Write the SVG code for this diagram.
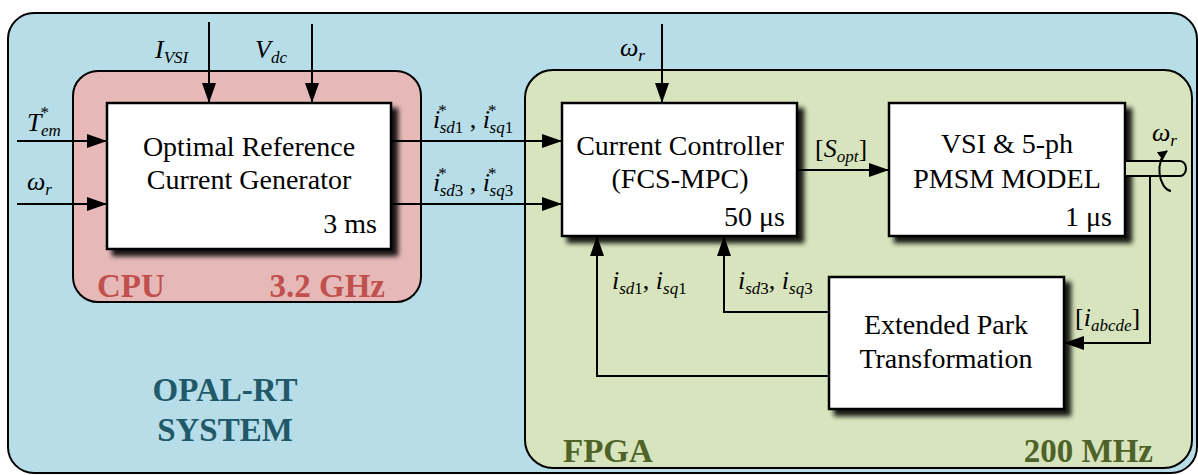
<svg xmlns="http://www.w3.org/2000/svg" width="1198" height="475" viewBox="0 0 1198 475">
<style>
.t{font-family:"Liberation Serif","Times New Roman",serif;font-size:28px;fill:#000}
.m{font-family:"Liberation Serif","Times New Roman",serif;font-size:26px;font-style:italic;fill:#000}
.s{font-size:17px}
.n{font-style:normal}
.b{font-family:"Liberation Serif","Times New Roman",serif;font-weight:bold;font-size:33px}
.box{fill:#fff;stroke:#000;stroke-width:2.5}
.ln{fill:none;stroke:#000;stroke-width:2}
</style>
<defs>
<marker id="ah" markerUnits="userSpaceOnUse" markerWidth="22" markerHeight="16" refX="20" refY="7" orient="auto">
<path d="M0,0 L20,7 L0,14 z" fill="#000"/>
</marker>
<marker id="sh" markerUnits="userSpaceOnUse" markerWidth="12" markerHeight="12" refX="9" refY="5" orient="auto">
<path d="M0,0 L10,5 L0,10 z" fill="#000"/>
</marker>
<filter id="shadow" x="-10%" y="-10%" width="130%" height="130%">
<feGaussianBlur in="SourceAlpha" stdDeviation="2.5"/>
<feOffset dx="6" dy="6" result="o"/>
<feComponentTransfer in="o" result="oc"><feFuncA type="linear" slope="0.9"/></feComponentTransfer>
<feMerge><feMergeNode in="oc"/><feMergeNode in="SourceGraphic"/></feMerge>
</filter>
</defs>

<g id="opal-rt">
<rect x="8" y="13" width="1189" height="460" rx="26" fill="#b7dde8" stroke="#000" stroke-width="2"/>
<text class="b" x="225" y="401" text-anchor="middle" fill="#215968">OPAL-RT</text>
<text class="b" x="225" y="441" text-anchor="middle" fill="#215968">SYSTEM</text>
</g>

<g id="cpu">
<rect x="73" y="71" width="348" height="231" rx="25" fill="#e6b9b8" stroke="#000" stroke-width="2"/>
<text class="b" x="97" y="297" fill="#c0504d">CPU</text>
<text class="b" x="385" y="297" text-anchor="end" fill="#c0504d">3.2 GHz</text>
</g>

<g id="fpga">
<rect x="525" y="70" width="667" height="398" rx="28" fill="#d7e4bd" stroke="#000" stroke-width="2"/>
<text class="b" x="563" y="462" fill="#4f6228">FPGA</text>
<text class="b" x="1153" y="462" text-anchor="end" fill="#4f6228">200 MHz</text>
</g>

<g id="optimal-reference">
<rect class="box" x="107" y="103" width="284" height="146" filter="url(#shadow)"/>
<text class="t" x="249" y="156" text-anchor="middle">Optimal Reference</text>
<text class="t" x="249" y="189" text-anchor="middle">Current Generator</text>
<text class="t" x="377" y="233" text-anchor="end">3 ms</text>
</g>

<g id="current-controller">
<rect class="box" x="562" y="103" width="235" height="133" filter="url(#shadow)"/>
<text class="t" x="680" y="155" text-anchor="middle">Current Controller</text>
<text class="t" x="680" y="188" text-anchor="middle">(FCS-MPC)</text>
<text class="t" x="785" y="226" text-anchor="end">50 μs</text>
</g>

<g id="pmsm-model">
<rect class="box" x="889" y="103" width="236" height="133" filter="url(#shadow)"/>
<text class="t" x="1007" y="153" text-anchor="middle">VSI &amp; 5-ph</text>
<text class="t" x="1007" y="188" text-anchor="middle">PMSM MODEL</text>
<text class="t" x="1112" y="226" text-anchor="end">1 μs</text>
</g>

<g id="park-transformation">
<rect class="box" x="829" y="277" width="235" height="132" filter="url(#shadow)"/>
<text class="t" x="946" y="334" text-anchor="middle">Extended Park</text>
<text class="t" x="946" y="368" text-anchor="middle">Transformation</text>
</g>

<g id="connectors">
<path class="ln" d="M209,22 V103" marker-end="url(#ah)"/>
<path class="ln" d="M312,24 V103" marker-end="url(#ah)"/>
<path class="ln" d="M17,141 H107" marker-end="url(#ah)"/>
<path class="ln" d="M17,204 H107" marker-end="url(#ah)"/>
<path class="ln" d="M391,141 H562" marker-end="url(#ah)"/>
<path class="ln" d="M391,204 H562" marker-end="url(#ah)"/>
<path class="ln" d="M662,24 V103" marker-end="url(#ah)"/>
<path class="ln" d="M797,170 H889" marker-end="url(#ah)"/>
<path class="ln" d="M829,376 H597 V236" marker-end="url(#ah)"/>
<path class="ln" d="M829,312 H724 V236" marker-end="url(#ah)"/>
<path class="ln" d="M1150,176 V343 H1064" marker-end="url(#ah)"/>
<path d="M1126,161 H1180 A6,7.5 0 0 1 1180,176 H1126" fill="#d7e4bd" stroke="#000" stroke-width="2"/>
<path class="ln" d="M1171,191 A13,21 0 0 1 1167,151" stroke-width="1.6" marker-end="url(#sh)"/>
</g>

<g id="labels">
<text class="m" x="155" y="58">I<tspan class="s" dy="5">VSI</tspan></text>
<text class="m" x="255" y="58">V<tspan class="s" dy="5">dc</tspan></text>
<text class="m" x="27" y="131">T<tspan class="s n" dx="-1" dy="-13">*</tspan><tspan class="s" dx="-8" dy="18">em</tspan></text>
<text class="m" x="27" y="190">ω<tspan class="s" dy="5">r</tspan></text>
<text class="m" x="620" y="56">ω<tspan class="s" dy="5">r</tspan></text>
<text class="m" x="1152" y="141">ω<tspan class="s" dy="5">r</tspan></text>
<text class="m" x="433" y="128">i<tspan class="s n" dx="-2" dy="-12">*</tspan><tspan class="s" dx="-7" dy="17">sd</tspan><tspan class="s n">1</tspan><tspan class="n" dy="-5"> , </tspan>i<tspan class="s n" dx="-2" dy="-12">*</tspan><tspan class="s" dx="-7" dy="17">sq</tspan><tspan class="s n">1</tspan></text>
<text class="m" x="433" y="191">i<tspan class="s n" dx="-2" dy="-12">*</tspan><tspan class="s" dx="-7" dy="17">sd</tspan><tspan class="s n">3</tspan><tspan class="n" dy="-5"> , </tspan>i<tspan class="s n" dx="-2" dy="-12">*</tspan><tspan class="s" dx="-7" dy="17">sq</tspan><tspan class="s n">3</tspan></text>
<text class="m" x="815" y="157"><tspan class="n">[</tspan>S<tspan class="s" dy="5">opt</tspan><tspan class="n" dy="-5">]</tspan></text>
<text class="m" x="612" y="289">i<tspan class="s" dy="5">sd</tspan><tspan class="s n">1</tspan><tspan class="n" dy="-5">, </tspan>i<tspan class="s" dy="5">sq</tspan><tspan class="s n">1</tspan></text>
<text class="m" x="738" y="289">i<tspan class="s" dy="5">sd</tspan><tspan class="s n">3</tspan><tspan class="n" dy="-5">, </tspan>i<tspan class="s" dy="5">sq</tspan><tspan class="s n">3</tspan></text>
<text class="m" x="1075" y="326"><tspan class="n">[</tspan>i<tspan class="s" dy="5">abcde</tspan><tspan class="n" dy="-5">]</tspan></text>
</g>
</svg>
